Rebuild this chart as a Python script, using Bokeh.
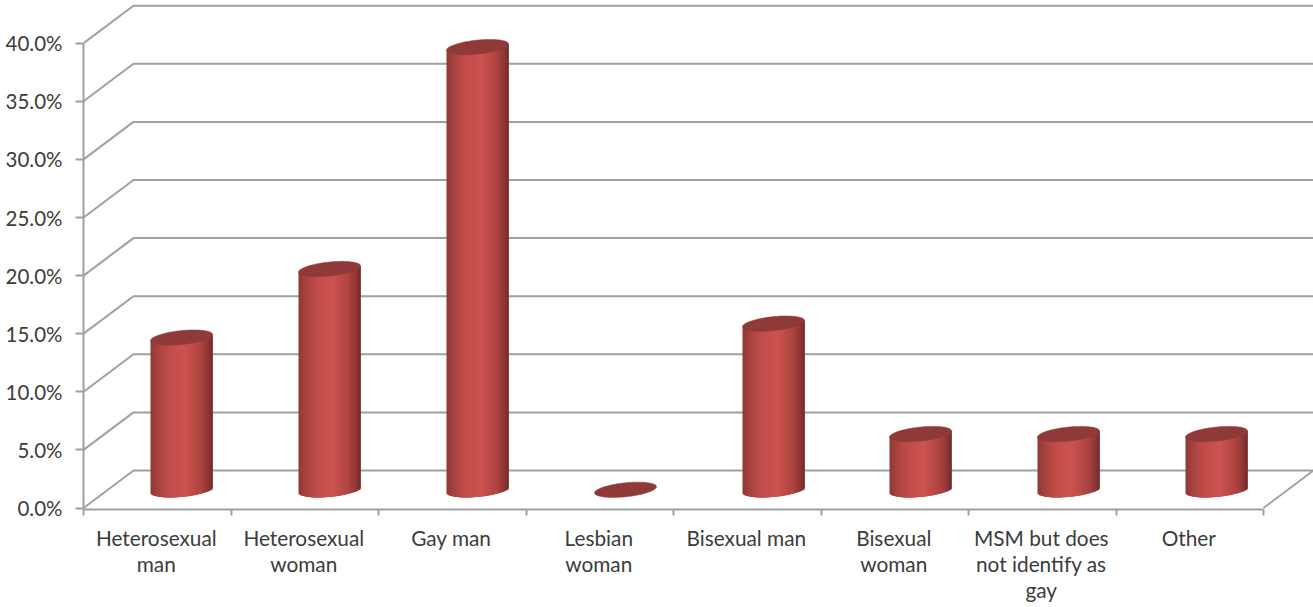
import numpy as np
from bokeh.plotting import figure
from bokeh.models import FixedTicker, LinearAxis, Range1d
from bokeh.embed import file_html
from bokeh.resources import INLINE

categories = ["Heterosexual\nman", "Heterosexual\nwoman", "Gay man", "Lesbian\nwoman",
              "Bisexual man", "Bisexual\nwoman", "MSM but does\nnot identify as\ngay", "Other"]
values = [13.1, 19.0, 38.1, 0.0, 14.3, 4.8, 4.8, 4.8]
y_ticks = [0, 5, 10, 15, 20, 25, 30, 35, 40]

# pixel geometry of the pseudo-3D box
W, H = 1313, 607
LEFT, AXIS_Y, ZERO_Y = 83, 509, 507.5
PX_X, PX_Y = 147.5, 11.62
DX, DY = 50 / PX_X, 37.5 / PX_Y
GRID = "#a0a0a0"
TEXT = "#3c3c3c"
FONT = "Lato"

p = figure(width=W, height=H, output_backend="svg", toolbar_location=None,
           x_range=Range1d(0, (W - LEFT) / PX_X),
           y_range=Range1d((ZERO_Y - AXIS_Y) / PX_Y, ZERO_Y / PX_Y),
           x_axis_type=None, y_axis_type=None,
           min_border_left=LEFT, min_border_right=0, min_border_top=0,
           min_border_bottom=H - AXIS_Y, outline_line_color=None)
p.grid.visible = False
p.background_fill_color = "white"

# back wall + side wall lines
n = len(categories)
xs = [[0, DX, n + DX] for _ in y_ticks[1:]]
ys = [[t, t + DY, t + DY] for t in y_ticks[1:]]
xs.append([0, DX, n + DX, n])
ys.append([0, DY, DY, 0])
p.multi_line(xs, ys, line_color=GRID, line_width=2)

# cylinders
CENTER, PITCH, RX, RY, SHEAR = 0.665, 1.0025, 31.0, 7.0, 0.1
BASE = 18.2 / PX_Y
stops_t = [0.0, 0.08, 0.3, 0.55, 0.8, 0.92, 1.0]
stops_r = [0x8c, 0xa0, 0xc2, 0xcc, 0xb0, 0x92, 0x74]
stops_g = [0x38, 0x40, 0x4d, 0x54, 0x45, 0x39, 0x2c]
stops_b = [0x35, 0x3d, 0x4a, 0x50, 0x42, 0x36, 0x2a]

left, right, bottom, top, colors = [], [], [], [], []
cap_x, cap_y = [], []
theta = np.linspace(0, 2 * np.pi, 90)
for i, v in enumerate(values):
    cx = round((i * PITCH + CENTER) * PX_X) / PX_X
    cy = BASE + v
    if v > 0:
        for px in np.arange(-RX, RX):
            mid = px + 0.5
            u = mid / RX
            t = (u + 1) / 2
            low = SHEAR * mid - RY * np.sqrt(max(1 - u * u, 0))
            left.append(cx + px / PX_X)
            right.append(cx + min(px + 3, RX) / PX_X)
            bottom.append(BASE + low / PX_Y)
            top.append(cy + SHEAR * mid / PX_Y)
            r = np.interp(t, stops_t, stops_r)
            g = np.interp(t, stops_t, stops_g)
            b = np.interp(t, stops_t, stops_b)
            colors.append("#%02x%02x%02x" % (int(r), int(g), int(b)))
    ex = RX * np.cos(theta)
    ey = RY * np.sin(theta) + SHEAR * ex
    cap_x.append((cx + ex / PX_X).tolist())
    cap_y.append((cy + ey / PX_Y).tolist())

p.quad(left=left, right=right, bottom=bottom, top=top, fill_color=colors, line_color=None)
p.patches(cap_x, cap_y, fill_color="#8f3a38", line_color="#8f3a38", line_width=0.5)

# axes
yaxis = LinearAxis(ticker=FixedTicker(ticks=y_ticks),
                   major_label_overrides={t: f"{t:.1f}%" for t in y_ticks},
                   bounds=((ZERO_Y - AXIS_Y) / PX_Y, 40),
                   axis_line_color=GRID, axis_line_width=2,
                   major_tick_line_color=GRID, major_tick_line_width=2,
                   major_tick_out=8, major_tick_in=0, minor_tick_out=0, minor_tick_in=0,
                   major_label_standoff=13,
                   major_label_text_font=FONT, major_label_text_font_size="20.5px",
                   major_label_text_color=TEXT)
p.add_layout(yaxis, "left")

centers = [i + 0.4935 for i in range(n)]
xaxis = LinearAxis(ticker=FixedTicker(ticks=centers, minor_ticks=list(range(n + 1))),
                   major_label_overrides=dict(zip(centers, categories)),
                   bounds=(0, n),
                   axis_line_color=GRID, axis_line_width=2,
                   major_tick_out=0, major_tick_in=0,
                   minor_tick_line_color=GRID, minor_tick_line_width=2,
                   minor_tick_out=6, minor_tick_in=0,
                   major_label_standoff=9,
                   major_label_text_font=FONT, major_label_text_font_size="20.8px",
                   major_label_text_color=TEXT, major_label_text_line_height=1.05)
p.add_layout(xaxis, "below")

open("out.html", "w").write(file_html(p, INLINE))
